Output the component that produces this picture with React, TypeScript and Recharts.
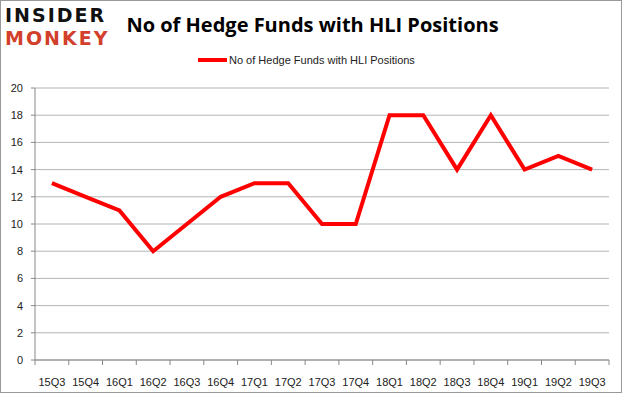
import React from "react";
import { LineChart, Line, XAxis, YAxis, CartesianGrid } from "recharts";

const quarters = ["15Q3", "15Q4", "16Q1", "16Q2", "16Q3", "16Q4", "17Q1", "17Q2", "17Q3", "17Q4", "18Q1", "18Q2", "18Q3", "18Q4", "19Q1", "19Q2", "19Q3"];
const funds = [13, 12, 11, 8, 10, 12, 13, 13, 10, 10, 18, 18, 14, 18, 14, 15, 14];
const yTicks = [0, 2, 4, 6, 8, 10, 12, 14, 16, 18, 20];

const data = quarters.map((q, i) => ({ idx: i, q, funds: funds[i] }));

// ticks at each category centre (labels) and each boundary (tick marks)
const xTicks: number[] = [];
for (let i = 0; i <= quarters.length; i++) {
  xTicks.push(i - 0.5);
  if (i < quarters.length) xTicks.push(i);
}

const font = "'Liberation Sans', Arial, sans-serif";
const logoFont = "'DejaVu Sans', sans-serif";

function XTick({ x, y, payload }: any) {
  const v = payload.value as number;
  if (Number.isInteger(v)) {
    return (
      <text x={x} y={y + 18} textAnchor="middle" fontSize={11} fill="#222" fontFamily={font}>
        {quarters[v]}
      </text>
    );
  }
  return <line x1={x} x2={x} y1={y - 8} y2={y - 3} stroke="#888" />;
}

export default function App() {
  return (
    <div style={{ position: "absolute", left: 0, top: 0, width: 625, height: 395, background: "#fff" }}>
      <div style={{ position: "absolute", left: 0, top: 0, width: 622, height: 393, border: "1px solid #999", boxSizing: "border-box" }} />
      <div style={{ position: "absolute", left: 5, top: 4, fontFamily: logoFont, fontWeight: 900, lineHeight: "23px", fontSize: 19, letterSpacing: 2, color: "#111" }}>
        INSIDER
      </div>
      <div style={{ position: "absolute", left: 5, top: 27, fontFamily: logoFont, fontWeight: 900, lineHeight: "23px", fontSize: 19, letterSpacing: 2, color: "#d23f2b" }}>
        MONKEY
      </div>
      <div style={{ position: "absolute", left: 0, width: 625, top: 11, textAlign: "center", fontFamily: "'Open Sans', sans-serif", fontWeight: 700, fontSize: 20, color: "#000" }}>
        No of Hedge Funds with HLI Positions
      </div>
      <div style={{ position: "absolute", left: 198, top: 54, display: "flex", alignItems: "center", fontFamily: font, fontSize: 11, color: "#222" }}>
        <div style={{ width: 29, height: 4, background: "#ff0000", marginRight: 2 }} />
        No of Hedge Funds with HLI Positions
      </div>
      <LineChart width={625} height={395} data={data} margin={{ top: 88, right: 16, bottom: 0, left: 0 }}>
        <CartesianGrid vertical={false} stroke="#b4b4b4" />
        <XAxis
          dataKey="idx"
          type="number"
          domain={[-0.5, quarters.length - 0.5]}
          ticks={xTicks}
          interval={0}
          tickLine={false}
          height={35}
          stroke="#888"
          tick={<XTick />}
        />
        <YAxis
          domain={[0, 20]}
          ticks={yTicks}
          width={35}
          stroke="#888"
          tickSize={4}
          tickMargin={8}
          tick={{ fontSize: 11, fill: "#222", fontFamily: font }}
        />
        <Line dataKey="funds" stroke="#ff0000" strokeWidth={4} dot={false} isAnimationActive={false} />
      </LineChart>
    </div>
  );
}
